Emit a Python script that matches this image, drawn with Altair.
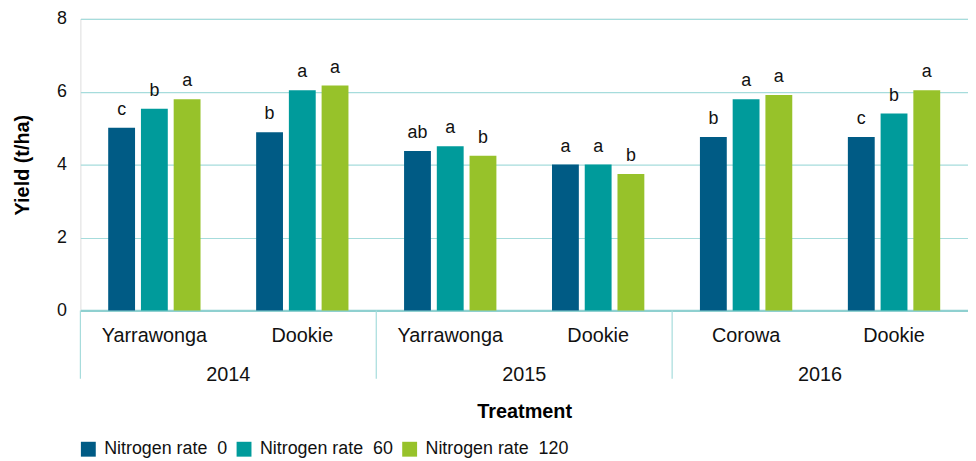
import altair as alt
import pandas as pd

years = ["2014", "2014", "2015", "2015", "2016", "2016"]
sites = ["Yarrawonga", "Dookie", "Yarrawonga", "Dookie", "Corowa", "Dookie"]
rates = ["Nitrogen rate \u00a00", "Nitrogen rate \u00a060", "Nitrogen rate \u00a0120"]
n0 = [5.01, 4.89, 4.37, 4.00, 4.76, 4.76]
n60 = [5.53, 6.04, 4.50, 4.00, 5.79, 5.40]
n120 = [5.79, 6.17, 4.24, 3.74, 5.91, 6.04]
let0 = ["c", "b", "ab", "a", "b", "c"]
let60 = ["b", "a", "a", "a", "a", "b"]
let120 = ["a", "a", "b", "b", "a", "a"]
year_list = ["2014", "2015", "2016"]
colors = ["#005b85", "#009b9b", "#97c22a"]

keys = [f"{y}|{s}" for y, s in zip(years, sites)]
rows = []
for vals, lets, rate in [(n0, let0, rates[0]), (n60, let60, rates[1]), (n120, let120, rates[2])]:
    for k, y, v, l in zip(keys, years, vals, lets):
        rows.append({"key": k, "year": y, "rate": rate, "yield": v, "letter": l})
df = pd.DataFrame(rows)
ydf = pd.DataFrame({"year": year_list})

W, H = 895, 294
FONT = "Liberation Sans"

xenc = alt.X(
    "key:N", sort=keys,
    scale=alt.Scale(paddingInner=0.336, paddingOuter=0.168),
    axis=alt.Axis(
        title="Treatment", titleFontSize=20, titleFontWeight="bold", titlePadding=57,
        titleColor="#000", labelExpr="split(datum.label, '|')[1]", labelAngle=0,
        labelFontSize=20, labelColor="#111", labelPadding=15, ticks=False,
        domainColor="#8fd0d0", domainWidth=2.5,
    ),
)
xoff = alt.XOffset("rate:N", sort=rates, scale=alt.Scale(paddingInner=0.18, paddingOuter=0.09))
yenc = alt.Y(
    "yield:Q",
    scale=alt.Scale(domain=[0, 8], nice=False),
    axis=alt.Axis(
        title="Yield (t/ha)", titleFontSize=20, titleFontWeight="bold", titleColor="#000",
        titlePadding=24, values=[0, 2, 4, 6, 8], labelFontSize=18, labelColor="#111",
        labelPadding=14, ticks=False, domain=False, gridColor="#a6dcdc", gridWidth=1.2,
    ),
)

bars = alt.Chart(df).mark_bar().encode(
    x=xenc, xOffset=xoff, y=yenc,
    color=alt.Color(
        "rate:N", sort=rates, scale=alt.Scale(domain=rates, range=colors),
        legend=alt.Legend(
            title=None, orient="none", legendX=-1, legendY=425, direction="horizontal",
            symbolType="square", symbolSize=225, symbolStrokeWidth=0, labelFontSize=18,
            labelColor="#111", labelOffset=7, columnPadding=7, labelFont=FONT,
        ),
    ),
)

labels = alt.Chart(df).mark_text(
    fontSize=18, baseline="alphabetic", dy=-13, color="#111", font=FONT
).encode(x=alt.X("key:N", sort=keys), xOffset=alt.XOffset("rate:N", sort=rates), y="yield:Q", text="letter:N")

main = alt.layer(bars, labels)

yscale = alt.Scale(domain=year_list, paddingInner=0, paddingOuter=0)
year_text = alt.Chart(ydf).mark_text(fontSize=20, color="#111", baseline="middle", font=FONT).encode(
    x=alt.X("year:N", scale=yscale, axis=None), y=alt.value(H + 65), text="year:N"
)
year_rules = alt.Chart(ydf).mark_rule(color="#a6dcdc", strokeWidth=1.2).encode(
    x=alt.X("year:N", scale=yscale, axis=None, bandPosition=0),
    y=alt.value(H), y2=alt.value(H + 69),
)
years_layer = alt.layer(year_text, year_rules)

chart = alt.layer(main, years_layer).resolve_scale(x="independent").properties(
    width=W, height=H,
    autosize=alt.AutoSizeParams(type="none"),
    padding={"left": 73, "top": 9, "right": 0, "bottom": 152},
).configure_view(stroke=None).configure(font=FONT)

chart.save("out.html", embed_options={"renderer": "svg", "actions": False})
